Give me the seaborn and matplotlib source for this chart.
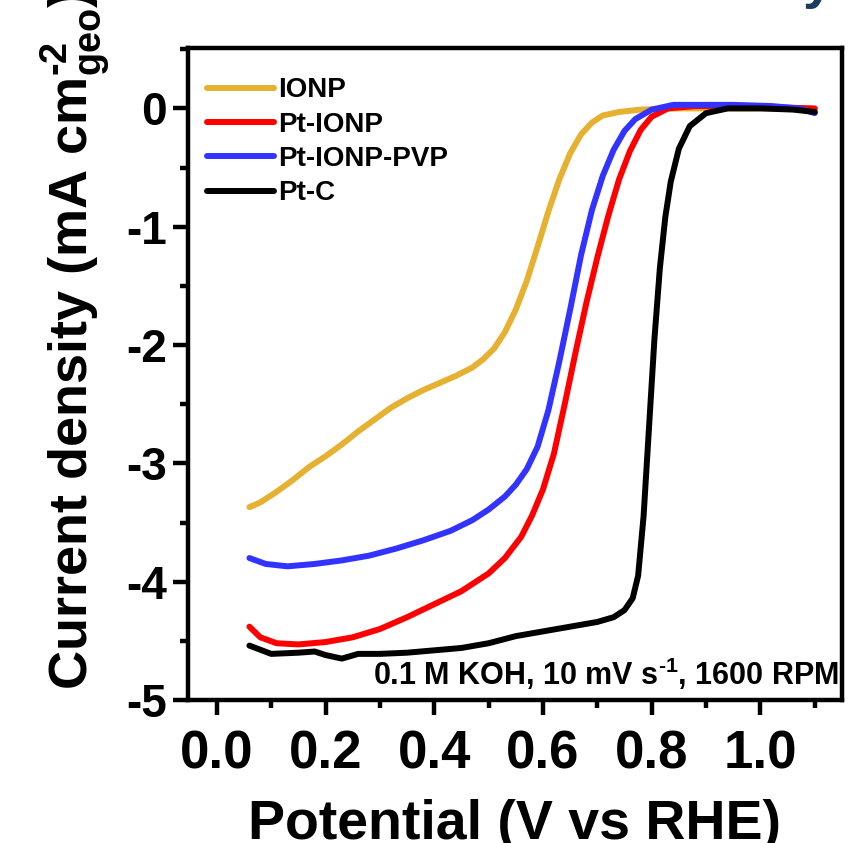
import pandas as pd
import matplotlib.pyplot as plt
import seaborn as sns
from matplotlib.ticker import MultipleLocator

# LSV data (V vs RHE, mA cm-2)
ionp_v = [0.06, 0.08, 0.11, 0.14, 0.17, 0.20, 0.23, 0.26, 0.29, 0.32, 0.35, 0.38, 0.41, 0.44,
          0.47, 0.49, 0.51, 0.53, 0.55, 0.57, 0.59, 0.61, 0.63, 0.65, 0.67, 0.69, 0.71, 0.74,
          0.78, 0.85, 0.95, 1.05, 1.10]
ionp_j = [-3.37, -3.33, -3.24, -3.14, -3.03, -2.94, -2.84, -2.73, -2.63, -2.53, -2.45, -2.38,
          -2.32, -2.26, -2.19, -2.12, -2.03, -1.89, -1.70, -1.46, -1.17, -0.87, -0.60, -0.38,
          -0.22, -0.12, -0.06, -0.03, -0.01, 0.0, 0.0, 0.0, -0.01]

ptionp_v = [0.06, 0.08, 0.11, 0.15, 0.20, 0.25, 0.30, 0.35, 0.40, 0.45, 0.50, 0.53, 0.56, 0.58,
            0.60, 0.62, 0.64, 0.66, 0.68, 0.70, 0.72, 0.74, 0.76, 0.78, 0.80, 0.83, 0.88, 0.95,
            1.02, 1.10]
ptionp_j = [-4.38, -4.47, -4.52, -4.53, -4.51, -4.47, -4.40, -4.30, -4.19, -4.08, -3.93, -3.80,
            -3.62, -3.44, -3.22, -2.92, -2.50, -2.06, -1.64, -1.26, -0.91, -0.60, -0.36, -0.18,
            -0.07, 0.0, 0.02, 0.02, 0.01, 0.0]

pvp_v = [0.06, 0.09, 0.13, 0.18, 0.23, 0.28, 0.33, 0.38, 0.43, 0.47, 0.50, 0.53, 0.55, 0.57,
         0.59, 0.61, 0.63, 0.65, 0.67, 0.69, 0.71, 0.73, 0.75, 0.77, 0.80, 0.84, 0.95, 1.02,
         1.07, 1.10]
pvp_j = [-3.80, -3.85, -3.87, -3.85, -3.82, -3.78, -3.72, -3.65, -3.57, -3.48, -3.39, -3.28,
         -3.18, -3.05, -2.86, -2.55, -2.14, -1.70, -1.24, -0.86, -0.57, -0.35, -0.19, -0.09,
         -0.01, 0.03, 0.03, 0.02, 0.0, -0.04]

ptc_v = [0.06, 0.10, 0.15, 0.18, 0.20, 0.23, 0.26, 0.30, 0.35, 0.40, 0.45, 0.50, 0.55, 0.60,
         0.65, 0.70, 0.73, 0.75, 0.765, 0.775, 0.785, 0.795, 0.805, 0.815, 0.825, 0.835, 0.85,
         0.87, 0.90, 0.94, 1.00, 1.06, 1.10]
ptc_j = [-4.54, -4.61, -4.60, -4.59, -4.62, -4.65, -4.61, -4.61, -4.60, -4.58, -4.56, -4.52,
         -4.46, -4.42, -4.38, -4.34, -4.30, -4.24, -4.14, -3.95, -3.45, -2.70, -1.95, -1.35,
         -0.92, -0.62, -0.34, -0.15, -0.04, 0.0, 0.0, -0.01, -0.03]

labels = ["IONP", "Pt-IONP", "Pt-IONP-PVP", "Pt-C"]
colors = ["#E6B030", "#FF0000", "#3333FF", "#000000"]

frames = []
for name, v, j in zip(labels, [ionp_v, ptionp_v, pvp_v, ptc_v], [ionp_j, ptionp_j, pvp_j, ptc_j]):
    frames.append(pd.DataFrame({"E": v, "J": j, "sample": name}))
df = pd.concat(frames, ignore_index=True)

sns.set_theme(style="ticks")
plt.rcParams["font.family"] = ["Liberation Sans", "DejaVu Sans"]
plt.rcParams["font.weight"] = "bold"
plt.rcParams["text.color"] = "black"
plt.rcParams["axes.labelcolor"] = "black"
plt.rcParams["xtick.color"] = "black"
plt.rcParams["ytick.color"] = "black"
plt.rcParams["mathtext.fontset"] = "custom"
plt.rcParams["mathtext.rm"] = "Liberation Sans:bold"
plt.rcParams["mathtext.default"] = "rm"

fig = plt.figure(figsize=(8.64, 8.43), dpi=100)
ax = fig.add_axes([0.2176, 0.1696, 0.7569, 0.7734])

sns.lineplot(data=df, x="E", y="J", hue="sample", palette=dict(zip(labels, colors)),
             hue_order=labels, sort=False, estimator=None, linewidth=4.3, ax=ax)
for line in ax.get_lines():
    line.set_solid_joinstyle("round")
    line.set_solid_capstyle("round")

ax.set_xlim(-0.053, 1.15)
ax.set_ylim(-5, 0.51)

ax.xaxis.set_minor_locator(MultipleLocator(0.1))
ax.yaxis.set_minor_locator(MultipleLocator(0.5))
ax.set_xticks([0.0, 0.2, 0.4, 0.6, 0.8, 1.0])
ax.set_xticklabels(["0.0", "0.2", "0.4", "0.6", "0.8", "1.0"])
ax.set_yticks([0, -1, -2, -3, -4, -5])
ax.set_yticklabels(["0", "-1", "-2", "-3", "-4", "-5"])

for s in ax.spines.values():
    s.set_linewidth(3.2)
    s.set_color("black")

ax.tick_params(axis="both", which="major", direction="out", length=11, width=3.2)
ax.tick_params(axis="both", which="minor", direction="out", length=5.5, width=3.2)
ax.tick_params(axis="x", which="major", pad=10)
ax.tick_params(axis="y", which="major", pad=4)

for t in ax.get_xticklabels():
    t.set_fontsize(38)
    t.set_fontweight("bold")
for t in ax.get_yticklabels():
    t.set_fontsize(33)
    t.set_fontweight("bold")

ax.set_xlabel("Potential (V vs RHE)", fontsize=40, fontweight="bold")
ax.xaxis.set_label_coords(0.5, -0.152)
ax.set_ylabel("")
fig.text(0.088, 0.181, r"Current density (mA cm$^{\text{-2}}_{\text{geo}}$)", rotation=90,
         ha="center", va="bottom", fontsize=39, fontweight="bold")

leg = ax.legend(loc="upper left", bbox_to_anchor=(0.0, 0.985), frameon=False, fontsize=20,
                handlelength=2.4, handletextpad=0.15, labelspacing=0.3, borderaxespad=0.3)
for line in leg.get_lines():
    line.set_linewidth(4.3)
for t in leg.get_texts():
    t.set_fontweight("bold")

ax.text(0.995, 0.012, r"0.1 M KOH, 10 mV s$^{\text{-1}}$, 1600 RPM", transform=ax.transAxes,
        ha="right", va="bottom", fontsize=22, fontweight="bold")

# cropped slide title fragment at the top edge
fig.text(0.947, 1.004, "y", color="#1F3A5F", fontsize=40, fontweight="bold",
         ha="center", va="baseline")

fig.savefig("out.png", dpi=100)
